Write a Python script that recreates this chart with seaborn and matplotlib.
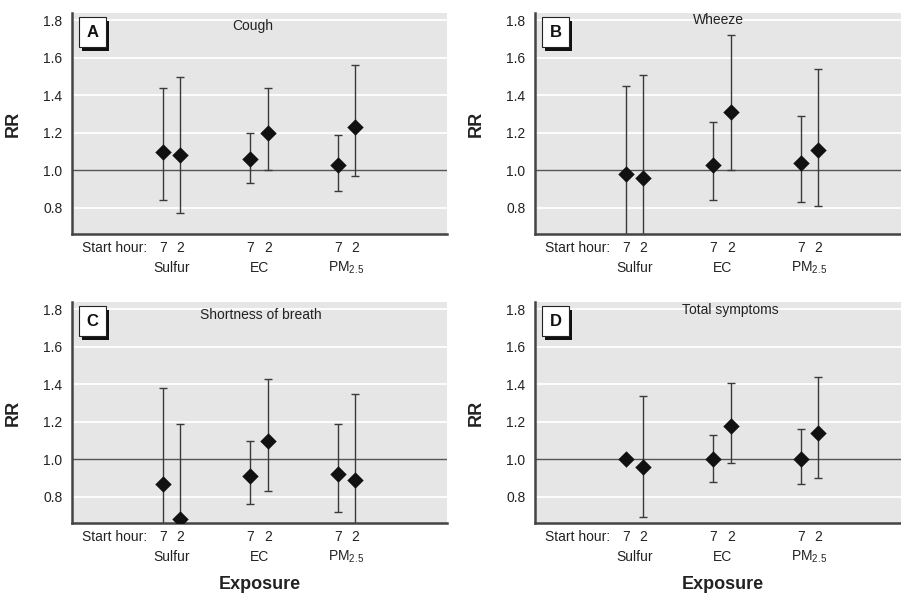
import numpy as np
import pandas as pd
import seaborn as sns
import matplotlib.pyplot as plt
from matplotlib.patches import Rectangle
from matplotlib.transforms import blended_transform_factory

# Data
exposures = ['Sulfur', 'EC', 'PM$_{2.5}$']
hours = ['7', '2']
panels = ['A', 'B', 'C', 'D']
titles = ['Cough', 'Wheeze', 'Shortness of breath', 'Total symptoms']

# order: Sulfur 7, Sulfur 2, EC 7, EC 2, PM 7, PM 2
rr_cough = [1.10, 1.08, 1.06, 1.20, 1.03, 1.23]
lo_cough = [0.84, 0.77, 0.93, 1.00, 0.89, 0.97]
hi_cough = [1.44, 1.50, 1.20, 1.44, 1.19, 1.56]

rr_wheeze = [0.98, 0.96, 1.03, 1.31, 1.04, 1.11]
lo_wheeze = [0.60, 0.60, 0.84, 1.00, 0.83, 0.81]
hi_wheeze = [1.45, 1.51, 1.26, 1.72, 1.29, 1.54]

rr_sob = [0.87, 0.68, 0.91, 1.10, 0.92, 0.89]
lo_sob = [0.60, 0.60, 0.76, 0.83, 0.72, 0.60]
hi_sob = [1.38, 1.19, 1.10, 1.43, 1.19, 1.35]

rr_total = [1.00, 0.96, 1.00, 1.18, 1.00, 1.14]
lo_total = [1.00, 0.69, 0.88, 0.98, 0.87, 0.90]
hi_total = [1.00, 1.34, 1.13, 1.41, 1.16, 1.44]

all_rr = [rr_cough, rr_wheeze, rr_sob, rr_total]
all_lo = [lo_cough, lo_wheeze, lo_sob, lo_total]
all_hi = [hi_cough, hi_wheeze, hi_sob, hi_total]

sns.set_style('white')
plt.rcParams['font.family'] = ['Liberation Sans Narrow', 'Liberation Sans', 'DejaVu Sans']
plt.rcParams['mathtext.default'] = 'regular'

fig = plt.figure(figsize=(9.01, 5.93), dpi=100)
W, H = 901, 593
boxes = [(72, 13), (535, 13), (72, 302), (535, 302)]
aw, ah = 375, 221

# x positions: group centre +/- offset for start hour
pos = []
for g in range(len(exposures)):
    for h in (-0.1, 0.1):
        pos.append(g + 1 + h)

for i in range(4):
    left, top = boxes[i]
    ax = fig.add_axes([left / W, (H - top - ah) / H, aw / W, ah / H])
    ax.set_facecolor('#e6e6e6')

    df = pd.DataFrame({'x': pos, 'rr': all_rr[i], 'lo': all_lo[i], 'hi': all_hi[i]})

    for yv in [0.8, 1.2, 1.4, 1.6, 1.8]:
        ax.axhline(yv, color='white', lw=1.3, zorder=0)
    ax.axhline(1.0, color='#555555', lw=1.0, zorder=1)

    ax.errorbar(df['x'], df['rr'], yerr=[df['rr'] - df['lo'], df['hi'] - df['rr']],
                fmt='none', ecolor='#3a3a3a', elinewidth=1.0, capsize=3, capthick=1.0, zorder=2)
    sns.scatterplot(data=df, x='x', y='rr', marker='D', s=70, color='#111111',
                    edgecolor='#111111', linewidth=0, ax=ax, zorder=3, legend=False)

    ax.set_xlim(-0.14, 4.15)
    ax.set_ylim(0.66, 1.84)
    ax.set_yticks([0.8, 1.0, 1.2, 1.4, 1.6, 1.8])
    ax.set_yticklabels(['0.8', '1.0', '1.2', '1.4', '1.6', '1.8'])
    ax.set_xticks(pos)
    ax.set_xticklabels(hours * len(exposures))
    ax.tick_params(axis='both', length=0, labelsize=10, colors='#222222')
    ax.tick_params(axis='y', pad=7)
    ax.tick_params(axis='x', pad=5)

    for s in ['top', 'right']:
        ax.spines[s].set_visible(False)
    for s in ['left', 'bottom']:
        ax.spines[s].set_color('#444444')
        ax.spines[s].set_linewidth(1.8)

    ax.set_xlabel('')
    ax.set_ylabel('RR', fontsize=13, fontweight='bold', color='#222222')
    ax.yaxis.set_label_coords(-0.135, 0.5)

    trans = blended_transform_factory(ax.transData, ax.transAxes)
    ax.text(0.72, -0.063, 'Start hour:', transform=trans, ha='right', va='center',
            fontsize=10, color='#222222')
    for g, name in enumerate(exposures):
        ax.text(g + 1, -0.155, name, transform=trans, ha='center', va='center',
                fontsize=10, color='#222222')

    # panel letter box with shadow
    ax.add_patch(Rectangle((0.027, 0.828), 0.072, 0.136, transform=ax.transAxes,
                           facecolor='#111111', edgecolor='none', zorder=4))
    ax.add_patch(Rectangle((0.019, 0.846), 0.072, 0.136, transform=ax.transAxes,
                           facecolor='white', edgecolor='#222222', lw=0.8, zorder=5))
    ax.text(0.055, 0.914, panels[i], transform=ax.transAxes, ha='center', va='center',
            fontsize=12, fontweight='bold', color='#111111', zorder=6)

    ty = [0.94, 0.968, 0.94, 0.963][i]
    tx = [0.483, 0.488, 0.504, 0.52][i]
    ax.text(tx, ty, titles[i], transform=ax.transAxes, ha='center', va='center',
            fontsize=10, color='#222222', zorder=4)

    if i >= 2:
        ax.text(0.5, -0.28, 'Exposure', transform=ax.transAxes, ha='center', va='center',
                fontsize=13, fontweight='bold', color='#222222')

fig.savefig('out.png', dpi=100)
